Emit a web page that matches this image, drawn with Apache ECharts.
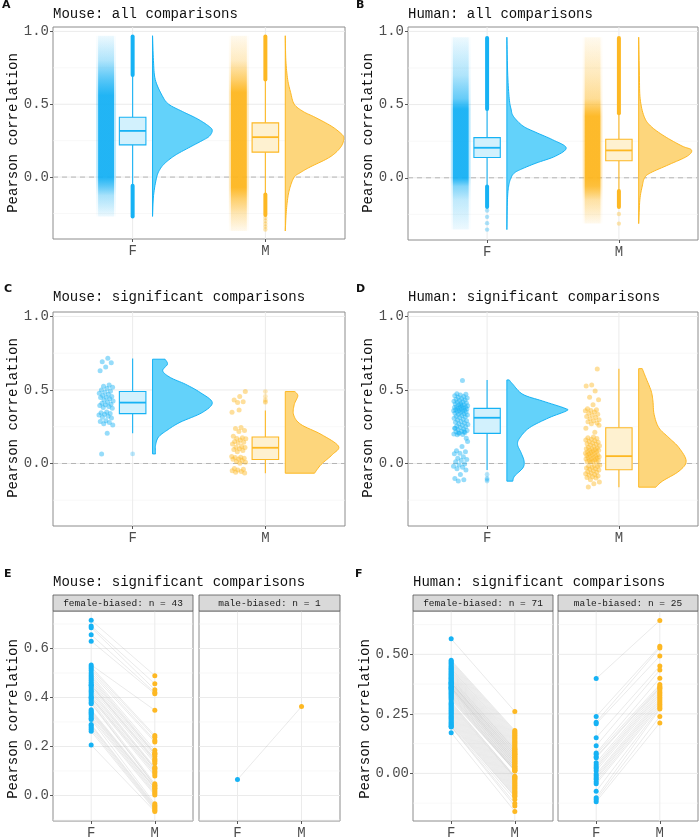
<!DOCTYPE html>
<html><head><meta charset="utf-8">
<script src="https://cdn.jsdelivr.net/npm/echarts@6/dist/echarts.min.js"></script>
<style>html,body{margin:0;padding:0;background:#fff}#c{width:700px;height:840px}</style>
</head><body><div id="c"></div><script>
// ---------------- DATA ----------------
const xCategories = ['F', 'M'];
const deltaLabels = ['0.043', '0.016', '0.293', '0.156'];
const panelTitles = ['Mouse: all comparisons', 'Human: all comparisons', 'Mouse: significant comparisons', 'Human: significant comparisons', 'Mouse: significant comparisons', 'Human: significant comparisons'];
const panelLetters = ['A', 'B', 'C', 'D', 'E', 'F'];
const yTicksTop = [0, 0.5, 1.0];
const yTicksMouseSig = [0, 0.2, 0.4, 0.6];
const yTicksHumanSig = [0, 0.25, 0.5];

// density profiles [value, relative density]
const densMouseAllF = [[0.97,0],[0.8,0.015],[0.67,0.045],[0.56,0.16],[0.5,0.27],[0.45,0.5],[0.40,0.75],[0.35,0.94],[0.32,1],[0.28,0.95],[0.25,0.83],[0.2,0.6],[0.15,0.38],[0.1,0.22],[0.057,0.13],[0,0.07],[-0.126,0.017],[-0.27,0]];
const densMouseAllM = [[0.97,0],[0.8,0.01],[0.67,0.04],[0.58,0.09],[0.5,0.15],[0.45,0.3],[0.41,0.5],[0.35,0.77],[0.3,0.93],[0.27,0.98],[0.22,0.95],[0.17,0.85],[0.126,0.7],[0.07,0.42],[0.03,0.25],[0,0.15],[-0.07,0.08],[-0.148,0.04],[-0.25,0.015],[-0.37,0]];
const densHumanAllF = [[0.96,0],[0.7,0.015],[0.54,0.04],[0.47,0.07],[0.42,0.11],[0.354,0.27],[0.31,0.49],[0.26,0.77],[0.205,1],[0.148,0.82],[0.1,0.49],[0.06,0.25],[0.034,0.13],[0,0.07],[-0.057,0.03],[-0.15,0.01],[-0.354,0]];
const densHumanAllM = [[0.96,0],[0.7,0.012],[0.54,0.025],[0.42,0.09],[0.354,0.2],[0.285,0.43],[0.217,0.73],[0.19,0.89],[0.148,0.82],[0.09,0.51],[0.034,0.2],[0,0.1],[-0.057,0.06],[-0.15,0.02],[-0.313,0]];
const densMouseSigF = [[0.709,0.21],[0.675,0.25],[0.63,0.17],[0.584,0.3],[0.539,0.55],[0.482,0.8],[0.414,1],[0.346,0.83],[0.28,0.46],[0.225,0.24],[0.18,0.1],[0.123,0.05],[0.065,0.05]];
const densMouseSigM = [[0.489,0.16],[0.46,0.21],[0.40,0.15],[0.33,0.14],[0.266,0.26],[0.198,0.6],[0.118,0.89],[0.061,0.79],[-0.007,0.6],[-0.066,0.49]];
const densHumanSigF = [[0.568,0.04],[0.539,0.1],[0.47,0.27],[0.425,0.6],[0.375,0.98],[0.357,1.0],[0.311,0.71],[0.243,0.38],[0.175,0.22],[0.13,0.18],[0.073,0.24],[0.016,0.29],[-0.03,0.27],[-0.086,0.13],[-0.12,0.1]];
const densHumanSigM = [[0.645,0.06],[0.584,0.12],[0.493,0.21],[0.425,0.24],[0.334,0.26],[0.243,0.34],[0.175,0.51],[0.107,0.68],[0.016,0.8],[-0.052,0.68],[-0.12,0.4],[-0.161,0.29]];

// box stats [lower whisker, Q1, median, Q3, upper whisker]
const boxMouseAllF = [-0.057, 0.221, 0.317, 0.411, 0.696];
const boxMouseAllM = [-0.114, 0.171, 0.274, 0.372, 0.662];
const boxHumanAllF = [-0.053, 0.139, 0.205, 0.274, 0.468];
const boxHumanAllM = [-0.084, 0.116, 0.187, 0.263, 0.434];
const boxMouseSigF = [0.205, 0.339, 0.414, 0.489, 0.714];
const boxMouseSigM = [-0.066, 0.027, 0.107, 0.180, 0.361];
const boxHumanSigF = [-0.045, 0.205, 0.311, 0.375, 0.568];
const boxHumanSigM = [-0.161, -0.043, 0.050, 0.243, 0.645];

// dense outlier ranges and isolated outliers (all comparisons)
const outRangesMouseAllF = [[0.70, 0.965], [-0.06, -0.27]];
const outRangesMouseAllM = [[0.67, 0.965], [-0.12, -0.26]];
const outRangesHumanAllF = [[0.47, 0.955], [-0.06, -0.20]];
const outRangesHumanAllM = [[0.44, 0.955], [-0.09, -0.20]];
const outSinglesMouseAllF = [];
const outSinglesMouseAllM = [-0.28, -0.30, -0.32, -0.34, -0.36];
const outSinglesHumanAllF = [-0.224, -0.267, -0.31, -0.354];
const outSinglesHumanAllM = [-0.247, -0.313];

// paired correlations (significant comparisons)
const mouseFemBiasedF = [0.715, 0.692, 0.685, 0.656, 0.630,
  0.533, 0.525, 0.518, 0.510, 0.500, 0.492, 0.485, 0.478, 0.470, 0.462,
  0.455, 0.450, 0.448, 0.440, 0.432, 0.425, 0.418, 0.410, 0.402, 0.400,
  0.395, 0.388, 0.380, 0.375, 0.350, 0.345, 0.340, 0.335, 0.330, 0.322,
  0.315, 0.310, 0.290, 0.285, 0.278, 0.270, 0.262, 0.206];
const mouseFemBiasedM = [0.489, 0.456, 0.432, 0.420, 0.415, 0.348, 0.245, 0.238, 0.225, 0.218,
  0.185, 0.175, 0.170, 0.168, 0.160, 0.150, 0.145, 0.140, 0.132, 0.115,
  0.110, 0.108, 0.100, 0.095, 0.088, 0.080, 0.048, 0.042, 0.040, 0.035,
  0.030, 0.028, 0.020, 0.014, 0.008, 0.002, -0.034, -0.040, -0.045, -0.050,
  -0.055, -0.060, -0.065];
const mouseMaleBiasedF = [0.065];
const mouseMaleBiasedM = [0.363];
const humanFemBiasedF = [0.565, 0.475, 0.470, 0.465, 0.460, 0.455, 0.450, 0.445, 0.440, 0.437,
  0.432, 0.428, 0.424, 0.420, 0.416, 0.412, 0.408, 0.404, 0.400, 0.397,
  0.393, 0.390, 0.386, 0.383, 0.380, 0.380, 0.377, 0.374, 0.371, 0.368,
  0.365, 0.362, 0.360, 0.359, 0.356, 0.353, 0.350, 0.346, 0.342, 0.338,
  0.334, 0.330, 0.326, 0.322, 0.318, 0.313, 0.308, 0.300, 0.295, 0.290,
  0.285, 0.280, 0.275, 0.270, 0.265, 0.260, 0.255, 0.250, 0.245, 0.240,
  0.235, 0.230, 0.225, 0.220, 0.215, 0.210, 0.205, 0.200, 0.197, 0.195,
  0.171];
const humanFemBiasedM = [0.260, 0.180, 0.175, 0.170, 0.165, 0.160, 0.155, 0.150, 0.145, 0.140,
  0.135, 0.130, 0.125, 0.120, 0.115, 0.110, 0.105, 0.100, 0.100, 0.095,
  0.090, 0.090, 0.085, 0.080, 0.080, 0.075, 0.070, 0.070, 0.065, 0.060,
  0.060, 0.055, 0.050, 0.050, 0.045, 0.040, 0.040, 0.035, 0.030, 0.030,
  0.025, 0.020, 0.020, 0.015, 0.013, 0.011, 0.010, -0.012, -0.014, -0.018,
  -0.020, -0.025, -0.030, -0.035, -0.040, -0.045, -0.050, -0.055, -0.060, -0.065,
  -0.070, -0.075, -0.080, -0.085, -0.090, -0.095, -0.098, -0.110, -0.126, -0.137,
  -0.160];
const humanMaleBiasedF = [0.398, 0.239, 0.215, 0.208, 0.150, 0.116, 0.086, 0.080, 0.070, 0.066,
  0.045, 0.035, 0.027, 0.020, 0.011, -0.003, -0.010, -0.018, -0.025, -0.035,
  -0.044, -0.075, -0.102, -0.110, -0.119];
const humanMaleBiasedM = [0.642, 0.534, 0.527, 0.493, 0.451, 0.434, 0.400, 0.373, 0.366, 0.360,
  0.358, 0.350, 0.342, 0.335, 0.328, 0.320, 0.312, 0.305, 0.298, 0.290,
  0.283, 0.276, 0.270, 0.239, 0.212];

// ---------------- STYLE / LAYOUT ----------------
const FONT = '"Liberation Mono","DejaVu Sans Mono",monospace';
const COL = [
  {line:'#16B2F4', rgb:'20,176,244', violin:'#63D2FA', box:'#D2F1FD'},
  {line:'#FDB823', rgb:'253,182,30', violin:'#FDD67C', box:'#FEF1D0'}
];
const layout = [
  {left:53, top:27, width:292, height:212},
  {left:408, top:27, width:290, height:213},
  {left:53, top:312, width:292, height:214},
  {left:408, top:312, width:290, height:214},
  {left:53, top:611, width:140, height:215},
  {left:199, top:611, width:141, height:215},
  {left:413, top:611, width:140, height:215},
  {left:558, top:611, width:140, height:215}
];
const XR = [0.4, 2.6];
const yRanges = [[-0.425,1.03],[-0.425,1.03],[-0.425,1.03],[-0.425,1.03],[-0.104,0.753],[-0.104,0.753],[-0.2,0.682],[-0.2,0.682]];
const yMajor = [yTicksTop,yTicksTop,yTicksTop,yTicksTop,yTicksMouseSig,yTicksMouseSig,yTicksHumanSig,yTicksHumanSig];
const yMinor = [[-0.25,0.25,0.75],[-0.25,0.25,0.75],[-0.25,0.25,0.75],[-0.25,0.25,0.75],[-0.1,0.1,0.3,0.5,0.7],[-0.1,0.1,0.3,0.5,0.7],[-0.125,0.125,0.375,0.625],[-0.125,0.125,0.375,0.625]];
const yDec = [1,1,1,1,1,1,2,2];
const showYLab = [true,true,true,true,true,false,true,false];

// ---------------- HELPERS ----------------
function L(a, b, style) { return {type:'line', shape:{x1:a[0],y1:a[1],x2:b[0],y2:b[1]}, style:style}; }
function R(a, b, style) {
  return {type:'rect', shape:{x:Math.min(a[0],b[0]), y:Math.min(a[1],b[1]), width:Math.abs(b[0]-a[0]), height:Math.abs(b[1]-a[1])}, style:style};
}
function smoothEdge(pts, steps) {
  if (pts.length < 3) return pts;
  const out = [];
  for (let i = 0; i < pts.length - 1; i++) {
    const p0 = pts[Math.max(0,i-1)], p1 = pts[i], p2 = pts[i+1], p3 = pts[Math.min(pts.length-1,i+2)];
    for (let s = 0; s < steps; s++) {
      const t = s/steps, t2 = t*t, t3 = t2*t;
      const f = (a,b,c,d) => 0.5*((2*b)+(-a+c)*t+(2*a-5*b+4*c-d)*t2+(-a+3*b-3*c+d)*t3);
      out.push([f(p0[0],p1[0],p2[0],p3[0]), f(p0[1],p1[1],p2[1],p3[1])]);
    }
  }
  out.push(pts[pts.length-1]);
  return out;
}
function customSeries(gi, z, draw) {
  return {type:'custom', xAxisIndex:gi, yAxisIndex:gi, silent:true, z:z, data:[[1, 0]], encode:{x:0, y:1},
    renderItem:(p, api) => ({type:'group', children: draw(api)})};
}
function gridSeries(gi, dashedZero) {
  return customSeries(gi, 0, api => {
    const ch = [];
    const yr = yRanges[gi];
    yMinor[gi].forEach(v => { if (v > yr[0] && v < yr[1]) ch.push(L(api.coord([XR[0],v]), api.coord([XR[1],v]), {stroke:'#F3F3F3', lineWidth:0.6})); });
    yMajor[gi].forEach(v => ch.push(L(api.coord([XR[0],v]), api.coord([XR[1],v]), {stroke:'#EBEBEB', lineWidth:1})));
    [1,2].forEach(v => ch.push(L(api.coord([v,yr[0]]), api.coord([v,yr[1]]), {stroke:'#EBEBEB', lineWidth:1})));
    if (dashedZero) ch.push(L(api.coord([XR[0],0]), api.coord([XR[1],0]), {stroke:'#B5B5B5', lineWidth:1, lineDash:[5,4]}));
    return ch;
  });
}
function violinShape(api, c, dens, col) {
  const base = c + 0.15, sc = 0.45;
  const basePx = api.coord([base, 0])[0];
  const edge = smoothEdge(dens.map(d => api.coord([base + d[1]*sc, d[0]])), 8).map(p => [Math.max(basePx, p[0]), p[1]]);
  const pts = [api.coord([base, dens[0][0]])].concat(edge, [api.coord([base, dens[dens.length-1][0]])]);
  return {type:'polygon', shape:{points:pts}, style:{fill:col.violin, stroke:col.line, lineWidth:1}};
}
function boxShapes(api, c, st, col) {
  const hw = 0.1, s = {stroke:col.line, lineWidth:1.1};
  return [
    L(api.coord([c, st[3]]), api.coord([c, st[4]]), s),
    L(api.coord([c, st[1]]), api.coord([c, st[0]]), s),
    R(api.coord([c-hw, st[3]]), api.coord([c+hw, st[1]]), {fill:col.box, stroke:col.line, lineWidth:1.1}),
    L(api.coord([c-hw, st[2]]), api.coord([c+hw, st[2]]), {stroke:col.line, lineWidth:1.8})
  ];
}
function cloudShapes(api, c, dens, col) {
  const top = dens[0][0], bot = dens[dens.length-1][0];
  const alpha = w => w <= 0 ? 0.06 : Math.min(0.92, 0.1 + 12*w);
  const mk = (hw, k) => {
    const stops = dens.map(d => ({offset:(top-d[0])/(top-bot), color:'rgba(' + col.rgb + ',' + (alpha(d[1])*k).toFixed(3) + ')'}));
    return R(api.coord([c-0.2-hw, top]), api.coord([c-0.2+hw, bot]), {fill:new echarts.graphic.LinearGradient(0,0,0,1,stops)});
  };
  return [mk(0.075, 0.3), mk(0.06, 1)];
}
const jit = i => ((((i+1) * 0.6180339887) % 1) - 0.5) * 0.11;

// ---------------- BUILD ----------------
const series = [];
const grid = layout.map(g => Object.assign({show:true, borderColor:'#8C8C8C', borderWidth:1, backgroundColor:'#fff', containLabel:false}, g));
const xAxis = layout.map((g, i) => ({
  type:'value', gridIndex:i, min:XR[0], max:XR[1], position:'bottom', axisLine:{show:false, onZero:false}, splitLine:{show:false},
  axisTick:{show:true, customValues:[1,2], length:3, lineStyle:{color:'#555'}},
  axisLabel:{show:true, customValues:[1,2], formatter:v => xCategories[Math.round(v)-1], fontFamily:FONT, fontSize:14, color:'#4D4D4D', margin:5}
}));
const yAxis = layout.map((g, i) => ({
  type:'value', gridIndex:i, min:yRanges[i][0], max:yRanges[i][1], position:'left', axisLine:{show:false, onZero:false}, splitLine:{show:false},
  axisTick:{show:showYLab[i], customValues:yMajor[i], length:3, lineStyle:{color:'#555'}},
  axisLabel:{show:showYLab[i], customValues:yMajor[i], formatter:v => v.toFixed(yDec[i]), fontFamily:FONT, fontSize:14, color:'#4D4D4D', margin:4}
}));

const topPanels = [
  {gi:0, dens:[densMouseAllF, densMouseAllM], box:[boxMouseAllF, boxMouseAllM], ranges:[outRangesMouseAllF, outRangesMouseAllM], singles:[outSinglesMouseAllF, outSinglesMouseAllM], delta:deltaLabels[0]},
  {gi:1, dens:[densHumanAllF, densHumanAllM], box:[boxHumanAllF, boxHumanAllM], ranges:[outRangesHumanAllF, outRangesHumanAllM], singles:[outSinglesHumanAllF, outSinglesHumanAllM], delta:deltaLabels[1]}
];
topPanels.forEach(P => {
  series.push(gridSeries(P.gi, true));
  series.push(customSeries(P.gi, 2, api => {
    let ch = [];
    [0,1].forEach(g => {
      const c = g + 1, col = COL[g];
      ch = ch.concat(cloudShapes(api, c, P.dens[g], col));
      P.ranges[g].forEach(r => ch.push(L(api.coord([c, r[0]]), api.coord([c, r[1]]), {stroke:col.line, lineWidth:4, lineCap:'round'})));
      P.singles[g].forEach(v => { const p = api.coord([c, v]); ch.push({type:'circle', shape:{cx:p[0], cy:p[1], r:2.2}, style:{fill:'rgba(' + col.rgb + ',0.35)'}}); });
      ch = ch.concat(boxShapes(api, c, P.box[g], col));
      ch.push(violinShape(api, c, P.dens[g], col));
    });
    return ch;
  }));
});

const sigPanels = [
  {gi:2, dens:[densMouseSigF, densMouseSigM], box:[boxMouseSigF, boxMouseSigM], pts:[mouseFemBiasedF.concat(mouseMaleBiasedF), mouseFemBiasedM.concat(mouseMaleBiasedM)], delta:deltaLabels[2]},
  {gi:3, dens:[densHumanSigF, densHumanSigM], box:[boxHumanSigF, boxHumanSigM], pts:[humanFemBiasedF.concat(humanMaleBiasedF), humanFemBiasedM.concat(humanMaleBiasedM)], delta:deltaLabels[3]}
];
sigPanels.forEach(P => {
  series.push(gridSeries(P.gi, true));
  [0,1].forEach(g => {
    series.push({type:'scatter', xAxisIndex:P.gi, yAxisIndex:P.gi, silent:true, z:3, symbolSize:5,
      itemStyle:{color:COL[g].line, opacity:0.45},
      data:P.pts[g].map((v, i) => [g + 1 - 0.2 + jit(i + g*7), v])});
  });
  series.push(customSeries(P.gi, 4, api => {
    let ch = [];
    [0,1].forEach(g => {
      const c = g + 1, col = COL[g], st = P.box[g];
      ch = ch.concat(boxShapes(api, c, st, col));
      P.pts[g].filter(v => v < st[0] - 0.005 || v > st[4] + 0.005).forEach(v => {
        const p = api.coord([c, v]);
        ch.push({type:'circle', shape:{cx:p[0], cy:p[1], r:2.4}, style:{fill:'rgba(' + col.rgb + ',0.3)'}});
      });
      ch.push(violinShape(api, c, P.dens[g], col));
    });
    return ch;
  }));
});

// delta labels
[topPanels[0], topPanels[1], sigPanels[0], sigPanels[1]].forEach(P => {
  series.push({type:'scatter', xAxisIndex:P.gi, yAxisIndex:P.gi, silent:true, z:6, symbolSize:1, itemStyle:{opacity:0},
    data:[[1.5, 0.79]],
    label:{show:true, position:'inside', formatter:'Δ= ' + P.delta, fontFamily:FONT, fontSize:14, color:'#111'}});
});

// paired panels
const pairPanels = [
  {gi:4, f:mouseFemBiasedF, m:mouseFemBiasedM},
  {gi:5, f:mouseMaleBiasedF, m:mouseMaleBiasedM},
  {gi:6, f:humanFemBiasedF, m:humanFemBiasedM},
  {gi:7, f:humanMaleBiasedF, m:humanMaleBiasedM}
];
pairPanels.forEach(P => {
  series.push(gridSeries(P.gi, false));
  const fs = P.f.slice().sort((a,b) => b-a), ms = P.m.slice().sort((a,b) => b-a);
  series.push(customSeries(P.gi, 2, api => fs.map((v, i) => L(api.coord([1, v]), api.coord([2, ms[i]]), {stroke:'rgba(175,175,175,0.45)', lineWidth:0.6}))));
  series.push({type:'scatter', xAxisIndex:P.gi, yAxisIndex:P.gi, silent:true, z:4, symbolSize:5, itemStyle:{color:COL[0].line, opacity:1}, data:fs.map(v => [1, v])});
  series.push({type:'scatter', xAxisIndex:P.gi, yAxisIndex:P.gi, silent:true, z:4, symbolSize:5, itemStyle:{color:COL[1].line, opacity:1}, data:ms.map(v => [2, v])});
});

// ---------------- TEXT / STRIPS ----------------
const graphic = [];
const txt = (x, y, text, font, extra) => Object.assign({type:'text', x:x, y:y, z:100, style:{text:text, font:font, fill:'#111'}}, extra || {});
const titlePos = [[53,7],[408,7],[53,290],[408,290],[53,575],[413,575]];
const letterPos = [[2,0],[356,0],[4,284],[356,284],[4,569],[355,569]];
titlePos.forEach((p, i) => graphic.push(txt(p[0], p[1], panelTitles[i], '14px ' + FONT)));
letterPos.forEach((p, i) => graphic.push(txt(p[0], p[1], panelLetters[i], 'bold 11px "DejaVu Sans"')));
const yNamePos = [[13,133],[368,133],[13,418],[368,418],[13,719],[365,719]];
yNamePos.forEach(p => graphic.push({type:'text', x:p[0], y:p[1], rotation:Math.PI/2, z:100,
  style:{text:'Pearson correlation', font:'14px ' + FONT, fill:'#111', align:'center', verticalAlign:'middle', textAlign:'center', textVerticalAlign:'middle'}}));
const strips = [
  {gi:4, label:'female-biased: n = ' + mouseFemBiasedF.length},
  {gi:5, label:'male-biased: n = ' + mouseMaleBiasedF.length},
  {gi:6, label:'female-biased: n = ' + humanFemBiasedF.length},
  {gi:7, label:'male-biased: n = ' + humanMaleBiasedF.length}
];
strips.forEach(S => {
  const g = layout[S.gi];
  graphic.push({type:'rect', z:99, shape:{x:g.left, y:g.top - 16, width:g.width, height:16}, style:{fill:'#D9D9D9', stroke:'#555', lineWidth:0.8}});
  graphic.push({type:'text', z:100, x:g.left + g.width/2, y:g.top - 8,
    style:{text:S.label, font:'9.5px ' + FONT, fill:'#1A1A1A', align:'center', verticalAlign:'middle', textAlign:'center', textVerticalAlign:'middle'}});
});

const chart = echarts.init(document.getElementById('c'));
chart.setOption({animation:false, backgroundColor:'#fff', grid:grid, xAxis:xAxis, yAxis:yAxis, series:series, graphic:graphic});
</script></body></html>
